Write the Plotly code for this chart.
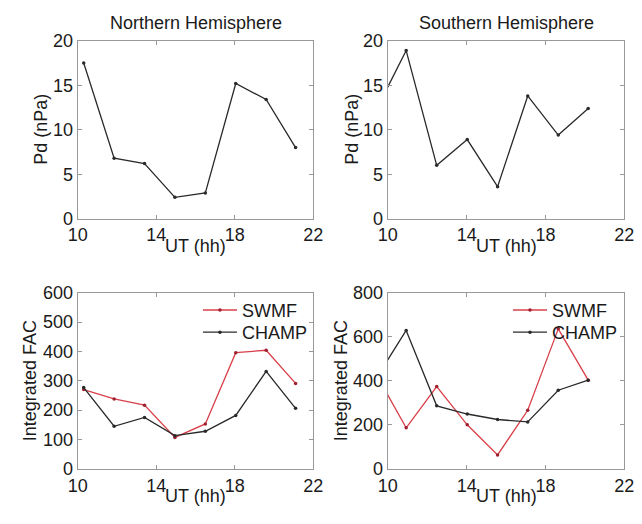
import plotly.graph_objects as go

# ---- data ----
ut_north = [10.3, 11.85, 13.4, 14.95, 16.5, 18.05, 19.6, 21.1]
pd_north = [17.5, 6.8, 6.2, 2.4, 2.9, 15.2, 13.4, 8.0]
ut_south = [9.38, 10.93, 12.48, 14.03, 15.57, 17.1, 18.65, 20.17]
pd_south = [12.1, 18.9, 6.0, 8.9, 3.6, 13.8, 9.4, 12.4]
fac_swmf_north = [270, 238, 217, 107, 153, 396, 404, 291]
fac_champ_north = [277, 145, 175, 113, 128, 182, 332, 206]
fac_swmf_south = [434, 186, 374, 200, 63, 266, 636, 403]
fac_champ_south = [407, 629, 286, 249, 224, 213, 357, 403]

x_ticks = [10, 14, 18, 22]
pd_ticks = [0, 5, 10, 15, 20]
fac_ticks_north = [0, 100, 200, 300, 400, 500, 600]
fac_ticks_south = [0, 200, 400, 600, 800]

DARK = "#2a2a2a"
RED = "#d8404a"
AXC = "#999999"
TXT = "#1a1a1a"
FONT = "Liberation Sans, Arial, sans-serif"
FS = 18
W, H = 642, 524

fig = go.Figure()

def line(x, y, color, name, xa, ya, legend="legend", show=False):
    fig.add_trace(go.Scatter(
        x=x, y=y, mode="lines+markers", name=name,
        line=dict(color=color, width=1.3),
        marker=dict(color=DARK if color == DARK else "#a02030", size=3.5),
        xaxis=xa, yaxis=ya, showlegend=show, legend=legend))

line(ut_north, pd_north, DARK, "Pd N", "x", "y")
line(ut_south, pd_south, DARK, "Pd S", "x2", "y2")
line(ut_north, fac_swmf_north, RED, "SWMF", "x3", "y3", "legend", True)
line(ut_north, fac_champ_north, DARK, "CHAMP", "x3", "y3", "legend2", True)
line(ut_south, fac_swmf_south, RED, "SWMF", "x4", "y4", "legend3", True)
line(ut_south, fac_champ_south, DARK, "CHAMP", "x4", "y4", "legend4", True)

# pixel -> paper fraction
def fx(a):
    return a / W

def fy(t):
    return 1 - t / H

xl = [fx(70), fx(313)]
xr = [fx(390), fx(634)]
yt = [fy(217), fy(32)]
yb = [fy(477), fy(294)]

def xaxis(dom, anchor):
    return dict(domain=dom, anchor=anchor, range=[10, 22], tickvals=x_ticks,
                ticks="inside", ticklen=4, tickcolor=AXC, showline=True,
                linecolor=AXC, linewidth=1.3, mirror="ticks", showgrid=False,
                zeroline=False, tickfont=dict(size=FS, color=TXT))

def yaxis(dom, anchor, rng, tv):
    return dict(domain=dom, anchor=anchor, range=rng, tickvals=tv,
                ticks="inside", ticklen=4, tickcolor=AXC, showline=True,
                linecolor=AXC, linewidth=1.3, mirror="ticks", showgrid=False,
                zeroline=False, tickfont=dict(size=FS, color=TXT))

legend_common = dict(bgcolor="rgba(0,0,0,0)", borderwidth=0,
                     font=dict(size=FS, color=TXT, family=FONT),
                     xanchor="left", yanchor="top", tracegroupgap=0,
                     itemwidth=34)

def text(t, x, y, angle=0):
    return dict(text=t, x=fx(x), y=fy(y), xref="paper", yref="paper",
                xanchor="center", yanchor="middle", showarrow=False,
                textangle=angle, font=dict(size=FS, color=TXT))

fig.update_layout(
    width=W, height=H, margin=dict(l=0, r=0, t=0, b=0),
    paper_bgcolor="white", plot_bgcolor="white",
    font=dict(family=FONT, color=TXT),
    xaxis=xaxis(xl, "y"), yaxis=yaxis(yt, "x", [0, 20], pd_ticks),
    xaxis2=xaxis(xr, "y2"), yaxis2=yaxis(yt, "x2", [0, 20], pd_ticks),
    xaxis3=xaxis(xl, "y3"), yaxis3=yaxis(yb, "x3", [0, 600], fac_ticks_north),
    xaxis4=xaxis(xr, "y4"), yaxis4=yaxis(yb, "x4", [0, 800], fac_ticks_south),
    legend=dict(x=fx(194), y=fy(293), **legend_common),
    legend2=dict(x=fx(194), y=fy(316), **legend_common),
    legend3=dict(x=fx(514), y=fy(293), **legend_common),
    legend4=dict(x=fx(514), y=fy(316), **legend_common),
    annotations=[
        text("Northern Hemisphere", 191.5, 13),
        text("Southern Hemisphere", 512, 13),
        text("UT (hh)", 191.5, 245),
        text("UT (hh)", 512, 245),
        text("UT (hh)", 191.5, 505),
        text("UT (hh)", 512, 505),
        text("Pd (nPa)", 32, 124.5, -90),
        text("Pd (nPa)", 353, 124.5, -90),
        text("Integrated FAC", 20, 385.5, -90),
        text("Integrated FAC", 341, 385.5, -90),
    ],
)

fig.write_html("out.html")
